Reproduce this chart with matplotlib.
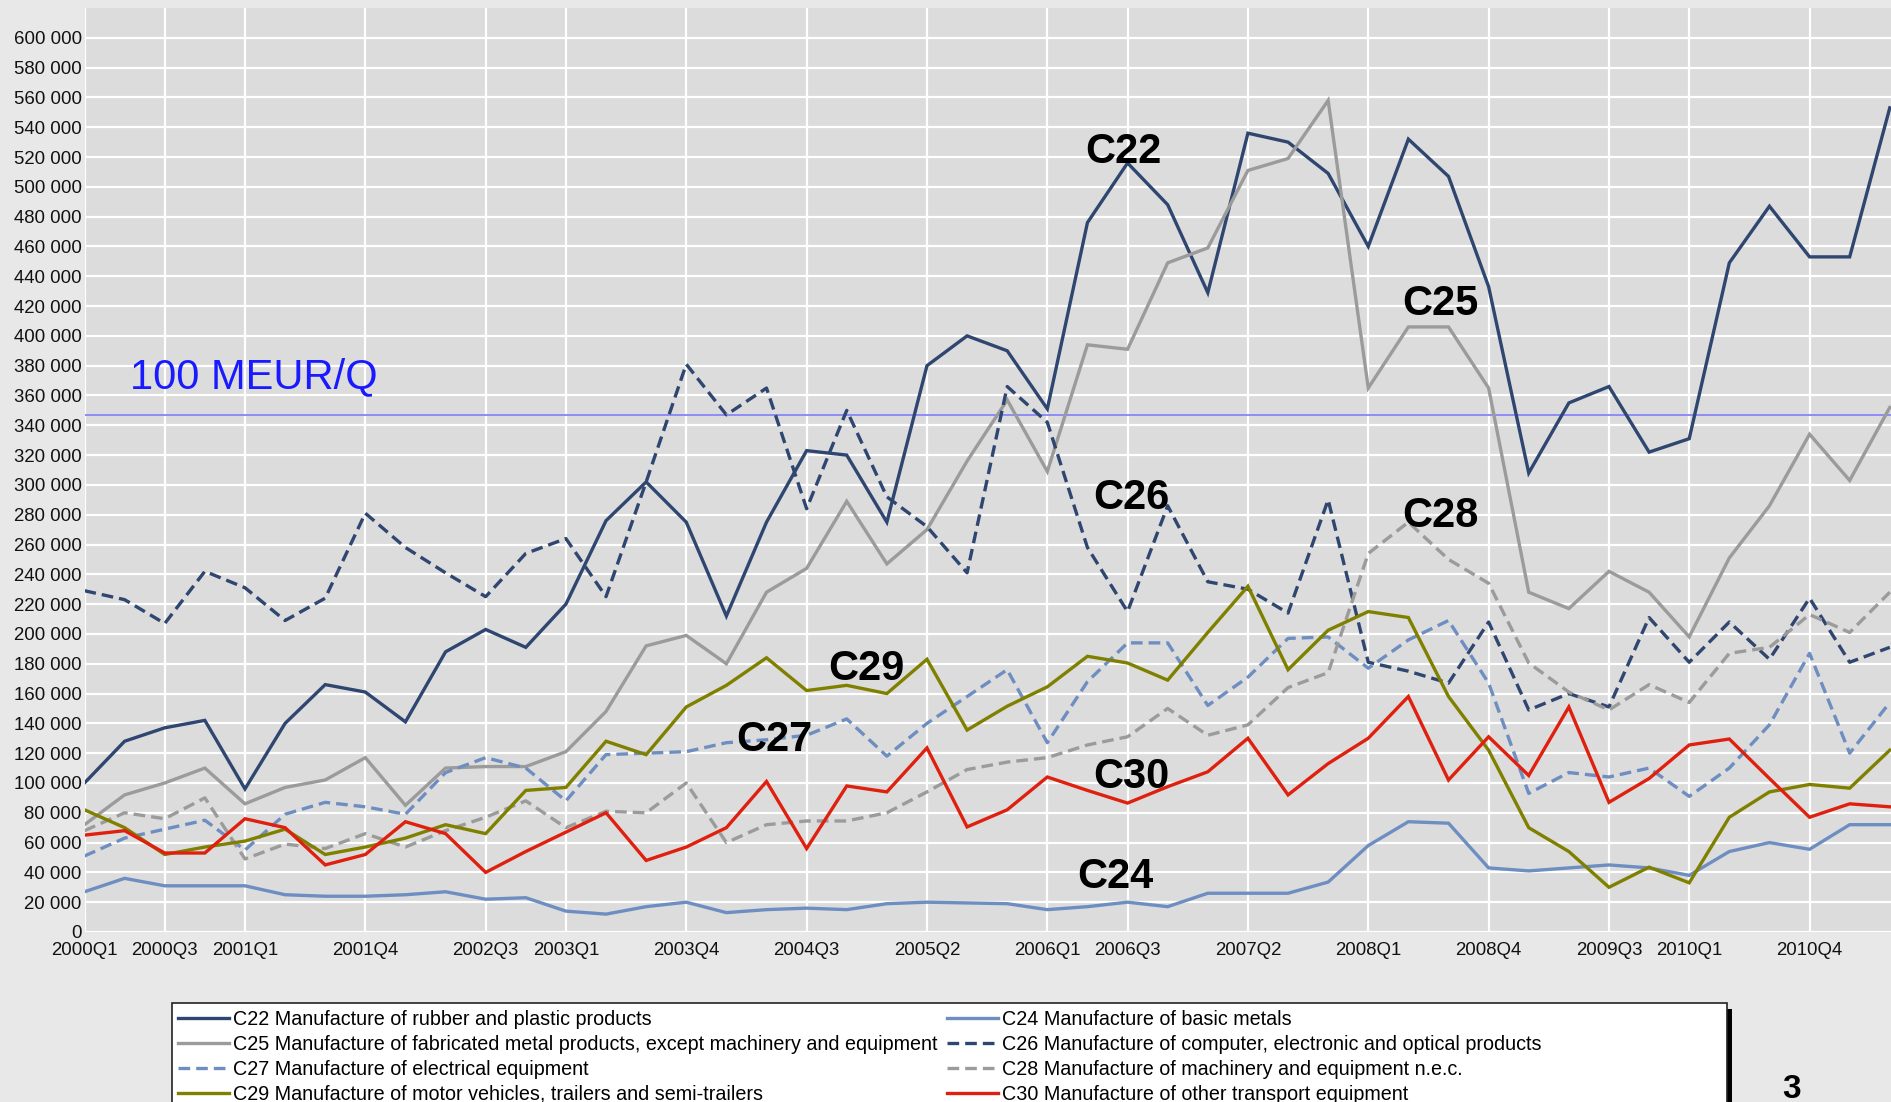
import matplotlib
matplotlib.use('Agg')
import matplotlib.pyplot as plt
from matplotlib import font_manager
from matplotlib.patches import Rectangle
from matplotlib.ticker import FuncFormatter

quarters = ['2000Q1', '2000Q2', '2000Q3', '2000Q4', '2001Q1', '2001Q2', '2001Q3', '2001Q4',
            '2002Q1', '2002Q2', '2002Q3', '2002Q4', '2003Q1', '2003Q2', '2003Q3', '2003Q4',
            '2004Q1', '2004Q2', '2004Q3', '2004Q4', '2005Q1', '2005Q2', '2005Q3', '2005Q4',
            '2006Q1', '2006Q2', '2006Q3', '2006Q4', '2007Q1', '2007Q2', '2007Q3', '2007Q4',
            '2008Q1', '2008Q2', '2008Q3', '2008Q4', '2009Q1', '2009Q2', '2009Q3', '2009Q4',
            '2010Q1', '2010Q2', '2010Q3', '2010Q4', '2011Q1', '2011Q2']

tick_labels = ['2000Q1', '2000Q3', '2001Q1', '2001Q4', '2002Q3', '2003Q1', '2003Q4', '2004Q3',
               '2005Q2', '2006Q1', '2006Q3', '2007Q2', '2008Q1', '2008Q4', '2009Q3', '2010Q1',
               '2010Q4']

y_ticks = [0, 20000, 40000, 60000, 80000, 100000, 120000, 140000, 160000, 180000, 200000,
           220000, 240000, 260000, 280000, 300000, 320000, 340000, 360000, 380000, 400000,
           420000, 440000, 460000, 480000, 500000, 520000, 540000, 560000, 580000, 600000]

threshold = 347000
threshold_label = '100 MEUR/Q'

c22 = [100000, 128000, 137000, 142000, 96000, 140000, 166000, 161000, 141000, 188000,
       203000, 191000, 220000, 276000, 302000, 275000, 212000, 275000, 323000, 320000,
       275000, 380000, 400000, 390000, 351000, 476000, 516000, 488000, 429000, 536000,
       530000, 509000, 460000, 532000, 507000, 433000, 308000, 355000, 366000, 322000,
       331000, 449000, 487000, 453000, 453000, 553000]
c24 = [27000, 36000, 31000, 31000, 31000, 25000, 24000, 24000, 25000, 27000,
       22000, 23000, 14000, 12000, 17000, 20000, 13000, 15000, 16000, 15000,
       19000, 20000, 19500, 19000, 15000, 17000, 20000, 17000, 26000, 26000,
       26000, 33500, 58000, 74000, 73000, 43000, 41000, 43000, 45000, 43000,
       38000, 54000, 60000, 55500, 72000, 72000]
c25 = [72000, 92000, 100000, 110000, 86000, 97000, 102000, 117000, 85000, 110000,
       111000, 111000, 121000, 148000, 192000, 199000, 180000, 228000, 244000, 289000,
       247000, 270000, 316000, 357000, 309000, 394000, 391000, 449000, 459000, 511000,
       519000, 558000, 365000, 406000, 406000, 365000, 228000, 217000, 242000, 228000,
       198000, 251000, 286000, 334000, 303000, 352000]
c26 = [229000, 223000, 207000, 242000, 231000, 209000, 224000, 281000, 258000, 241000,
       225000, 254000, 264000, 225000, 302000, 381000, 347000, 365000, 284000, 350000,
       292000, 272000, 241000, 366000, 342000, 258000, 215000, 286000, 235000, 230000,
       214000, 290000, 181000, 175000, 167000, 208000, 149000, 160000, 151000, 211000,
       181000, 208000, 183000, 224000, 181000, 191000]
c27 = [51000, 63000, 69000, 75000, 55000, 79000, 87000, 84000, 79000, 107000,
       117000, 110000, 88000, 119000, 120000, 121000, 127000, 129000, 132000, 143000,
       118000, 140000, 158000, 176000, 127000, 168000, 194000, 194000, 152000, 171000,
       197000, 198000, 177000, 196000, 209000, 167000, 93000, 107000, 104000, 110000,
       91000, 110000, 139000, 187000, 120000, 154000]
c28 = [68000, 80000, 76000, 90000, 49000, 59000, 56000, 66000, 57000, 68000,
       77000, 88000, 70000, 81000, 80000, 100000, 60000, 72000, 74500, 74500,
       80000, 94000, 109000, 114000, 117000, 125500, 131000, 150000, 132000, 139000,
       164000, 174000, 254000, 275000, 250000, 234000, 180500, 161000, 149000, 166000,
       154000, 187000, 191000, 213000, 201000, 228000]
c29 = [82000, 70000, 52000, 57000, 61000, 69000, 52000, 57000, 63000, 72000,
       66000, 95000, 97000, 128000, 119000, 151000, 165500, 184000, 162000, 165500,
       160000, 183000, 135500, 151500, 164500, 185000, 180500, 169000, 201000, 232000,
       176000, 202500, 215000, 211000, 158000, 122000, 70000, 54000, 30000, 43500,
       33000, 77000, 94000, 99000, 96500, 122000]
c30 = [65000, 68000, 53000, 53000, 76000, 70000, 45000, 52000, 74000, 66000,
       40000, 54000, 67000, 80000, 48000, 57000, 70000, 101000, 56000, 98000,
       94000, 123500, 70500, 82000, 104000, 95000, 86500, 97500, 107500, 130000,
       92000, 113000, 130000, 158000, 102000, 131000, 105000, 151000, 87000, 103000,
       125500, 129500, 103000, 77000, 86000, 84000]

names = ['C22 Manufacture of rubber and plastic products',
         'C24 Manufacture of basic metals',
         'C25 Manufacture of fabricated metal products, except machinery and equipment',
         'C26 Manufacture of computer, electronic and optical products',
         'C27 Manufacture of electrical equipment',
         'C28 Manufacture of machinery and equipment n.e.c.',
         'C29 Manufacture of motor vehicles, trailers and semi-trailers',
         'C30 Manufacture of other transport equipment']
codes = ['C22', 'C24', 'C25', 'C26', 'C27', 'C28', 'C29', 'C30']
series = [c22, c24, c25, c26, c27, c28, c29, c30]

# label anchor (quarter index, value) for the in-chart code labels
label_pos = {'C22': (25.9, 523500), 'C25': (33.8, 421500), 'C26': (26.1, 291000),
             'C28': (33.8, 279000), 'C29': (19.5, 176700), 'C27': (17.2, 129000),
             'C30': (26.1, 104000), 'C24': (25.7, 37000)}

NAVY = '#2F4670'
STEEL = '#6E8EC2'
GRAY = '#9B9B9B'
OLIVE = '#808000'
RED = '#E0200F'
styles = {
    'C22': dict(color=NAVY, ls='-'),
    'C24': dict(color=STEEL, ls='-'),
    'C25': dict(color=GRAY, ls='-'),
    'C26': dict(color=NAVY, ls='--'),
    'C27': dict(color=STEEL, ls='--'),
    'C28': dict(color=GRAY, ls='--'),
    'C29': dict(color=OLIVE, ls='-'),
    'C30': dict(color=RED, ls='-'),
}


def pick(fams):
    for f in fams:
        try:
            font_manager.findfont(f, fallback_to_default=False)
            return f
        except Exception:
            pass
    return 'DejaVu Sans'


BASE = pick(['Liberation Sans', 'Arial', 'DejaVu Sans'])
plt.rcParams['font.family'] = [BASE, 'DejaVu Sans']

W, H = 1891, 1102
fig = plt.figure(figsize=(W / 100, H / 100), dpi=100, facecolor='#E8E8E8')
left_px, right_px, top_px, bot_px = 84.5, 1891, 8, 932
ax = fig.add_axes([left_px / W, 1 - bot_px / H, (right_px - left_px) / W, (bot_px - top_px) / H])
ax.set_facecolor('#DCDCDC')

x = list(range(len(quarters)))
handles = {}
for code, vals, name in zip(codes, series, names):
    st = styles[code]
    kw = dict(color=st['color'], lw=2.4, solid_joinstyle='miter', zorder=3)
    if st['ls'] == '--':
        (ln,) = ax.plot(x, vals, ls=(0, (3.5, 1.8)), dash_capstyle='butt', **kw)
    else:
        (ln,) = ax.plot(x, vals, ls='-', **kw)
    ln.set_label(name)
    handles[code] = ln

ax.axhline(threshold, color='#8C8CF5', lw=1.4, zorder=2.5)
ax.text(1.14, 372000, threshold_label, color='#1A1AFF', fontsize=30, ha='left', va='center', zorder=5)

for code in codes:
    px_, py_ = label_pos[code]
    ax.text(px_, py_, code, fontsize=30, fontweight='bold', ha='center', va='center', color='black', zorder=6)

ax.set_xlim(0, len(quarters) - 1 + 0.03)
ax.set_ylim(0, 620000)
ax.set_yticks(y_ticks)
ax.yaxis.set_major_formatter(FuncFormatter(lambda v, p: f"{int(v):,}".replace(',', ' ')))
tick_pos = [quarters.index(t) for t in tick_labels]
ax.set_xticks(tick_pos)
ax.set_xticklabels(tick_labels)
ax.tick_params(axis='both', length=0, labelsize=13.4, colors='#111111')
ax.tick_params(axis='y', pad=2)
ax.tick_params(axis='x', pad=7)
ax.grid(True, color='white', lw=1.6, zorder=1)
ax.set_axisbelow(True)
for s in ax.spines.values():
    s.set_visible(False)

# legend box
lx0, lx1, ly0 = 172, 1727, 1003
fig.add_artist(Rectangle((lx1 / W, 0), 5 / W, 1 - (ly0 + 6) / H, transform=fig.transFigure,
                         facecolor='black', edgecolor='none', zorder=1))
fig.add_artist(Rectangle((lx0 / W, -0.01), (lx1 - lx0) / W, 1 - ly0 / H + 0.01, transform=fig.transFigure,
                         facecolor='white', edgecolor='#222222', lw=1.2, zorder=2))

order = ['C22', 'C25', 'C27', 'C29', 'C24', 'C26', 'C28', 'C30']
leg = fig.legend([handles[c] for c in order], [names[codes.index(c)] for c in order],
                 loc='upper left', bbox_to_anchor=(178 / W, 1 - 1010 / H), ncol=2,
                 frameon=False, fontsize=14.2, handlelength=2.6, handletextpad=0.2,
                 labelspacing=0.3, columnspacing=0.45, borderpad=0, borderaxespad=0)
leg.set_zorder(3)

fig.text(1792 / W, 1 - 1089 / H, '3', fontsize=24, fontweight='bold', ha='center', va='center')

fig.savefig('out.png', dpi=100, facecolor=fig.get_facecolor())
